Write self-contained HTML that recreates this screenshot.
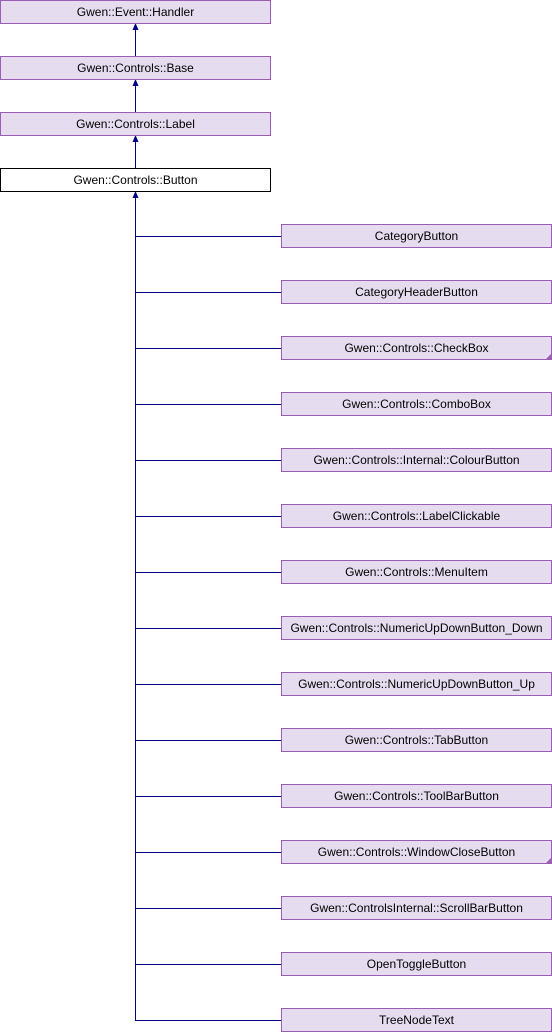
<!DOCTYPE html>
<html><head><style>body{margin:0;background:#fff}svg{display:block}</style></head><body>
<svg width="552" height="1032" xmlns="http://www.w3.org/2000/svg" font-family="Liberation Sans, sans-serif" font-size="12">
<g stroke="#000080" fill="#000080">
<line x1="135.5" y1="26" x2="135.5" y2="56"/><polygon points="135.5,23 132.5,30 138.5,30" stroke="none"/>
<line x1="135.5" y1="82" x2="135.5" y2="112"/><polygon points="135.5,79 132.5,86 138.5,86" stroke="none"/>
<line x1="135.5" y1="138" x2="135.5" y2="168"/><polygon points="135.5,135 132.5,142 138.5,142" stroke="none"/>
<line x1="135.5" y1="194" x2="135.5" y2="1020.5"/><polygon points="135.5,191 132.5,198 138.5,198" stroke="none"/>
<line x1="135" y1="236.5" x2="281" y2="236.5"/>
<line x1="135" y1="292.5" x2="281" y2="292.5"/>
<line x1="135" y1="348.5" x2="281" y2="348.5"/>
<line x1="135" y1="404.5" x2="281" y2="404.5"/>
<line x1="135" y1="460.5" x2="281" y2="460.5"/>
<line x1="135" y1="516.5" x2="281" y2="516.5"/>
<line x1="135" y1="572.5" x2="281" y2="572.5"/>
<line x1="135" y1="628.5" x2="281" y2="628.5"/>
<line x1="135" y1="684.5" x2="281" y2="684.5"/>
<line x1="135" y1="740.5" x2="281" y2="740.5"/>
<line x1="135" y1="796.5" x2="281" y2="796.5"/>
<line x1="135" y1="852.5" x2="281" y2="852.5"/>
<line x1="135" y1="908.5" x2="281" y2="908.5"/>
<line x1="135" y1="964.5" x2="281" y2="964.5"/>
<line x1="135" y1="1020.5" x2="281" y2="1020.5"/>
</g>
<g fill="#e6dcef" stroke="#9a5cb4">
<rect x="0.5" y="0.5" width="270" height="23"/>
<rect x="0.5" y="56.5" width="270" height="23"/>
<rect x="0.5" y="112.5" width="270" height="23"/>
<rect x="281.5" y="224.5" width="270" height="23"/>
<rect x="281.5" y="280.5" width="270" height="23"/>
<rect x="281.5" y="336.5" width="270" height="23"/>
<rect x="281.5" y="392.5" width="270" height="23"/>
<rect x="281.5" y="448.5" width="270" height="23"/>
<rect x="281.5" y="504.5" width="270" height="23"/>
<rect x="281.5" y="560.5" width="270" height="23"/>
<rect x="281.5" y="616.5" width="270" height="23"/>
<rect x="281.5" y="672.5" width="270" height="23"/>
<rect x="281.5" y="728.5" width="270" height="23"/>
<rect x="281.5" y="784.5" width="270" height="23"/>
<rect x="281.5" y="840.5" width="270" height="23"/>
<rect x="281.5" y="896.5" width="270" height="23"/>
<rect x="281.5" y="952.5" width="270" height="23"/>
<rect x="281.5" y="1008.5" width="270" height="23"/>
</g>
<polygon points="551,354 551,359 546,359" fill="#9a5cb4"/>
<polygon points="551,858 551,863 546,863" fill="#9a5cb4"/>
<rect x="0.5" y="168.5" width="270" height="23" fill="#fff" stroke="#000"/>
<g text-anchor="middle" fill="#000">
<text x="135.5" y="16">Gwen::Event::Handler</text>
<text x="135.5" y="72">Gwen::Controls::Base</text>
<text x="135.5" y="128">Gwen::Controls::Label</text>
<text x="135.5" y="184">Gwen::Controls::Button</text>
<text x="416.5" y="240">CategoryButton</text>
<text x="416.5" y="296">CategoryHeaderButton</text>
<text x="416.5" y="352">Gwen::Controls::CheckBox</text>
<text x="416.5" y="408">Gwen::Controls::ComboBox</text>
<text x="416.5" y="464">Gwen::Controls::Internal::ColourButton</text>
<text x="416.5" y="520">Gwen::Controls::LabelClickable</text>
<text x="416.5" y="576">Gwen::Controls::MenuItem</text>
<text x="416.5" y="632">Gwen::Controls::NumericUpDownButton_Down</text>
<text x="416.5" y="688">Gwen::Controls::NumericUpDownButton_Up</text>
<text x="416.5" y="744">Gwen::Controls::TabButton</text>
<text x="416.5" y="800">Gwen::Controls::ToolBarButton</text>
<text x="416.5" y="856">Gwen::Controls::WindowCloseButton</text>
<text x="416.5" y="912">Gwen::ControlsInternal::ScrollBarButton</text>
<text x="416.5" y="968">OpenToggleButton</text>
<text x="416.5" y="1024">TreeNodeText</text>
</g>
</svg>
</body></html>
